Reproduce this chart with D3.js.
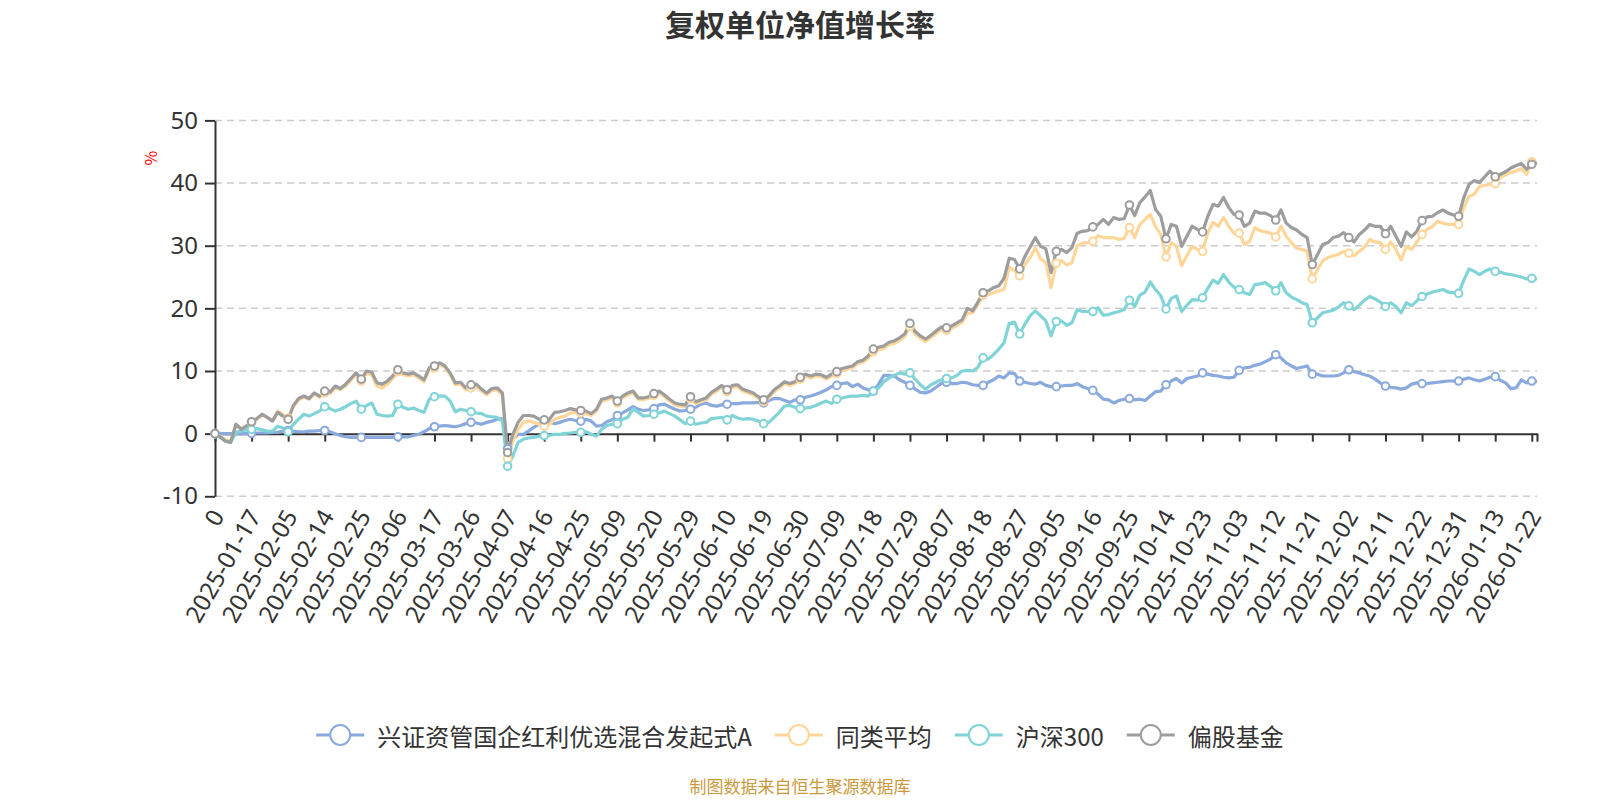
<!DOCTYPE html>
<html>
<head>
<meta charset="utf-8">
<script src="https://cdn.jsdelivr.net/npm/d3@7"></script>
<style>
  body { margin: 0; background: #fff; }
  svg { display: block; font-family: "Noto Sans CJK SC", "Noto Sans", sans-serif; }
</style>
</head>
<body>
<div id="main"></div>
<script>
// x tick labels, one every 7 trading days
const tickLabels = ["0", "2025-01-17", "2025-02-05", "2025-02-14", "2025-02-25", "2025-03-06", "2025-03-17",
  "2025-03-26", "2025-04-07", "2025-04-16", "2025-04-25", "2025-05-09", "2025-05-20", "2025-05-29",
  "2025-06-10", "2025-06-19", "2025-06-30", "2025-07-09", "2025-07-18", "2025-07-29", "2025-08-07",
  "2025-08-18", "2025-08-27", "2025-09-05", "2025-09-16", "2025-09-25", "2025-10-14", "2025-10-23",
  "2025-11-03", "2025-11-12", "2025-11-21", "2025-12-02", "2025-12-11", "2025-12-22", "2025-12-31",
  "2026-01-13", "2026-01-22"];
const labelStep = 7;
const yTicks = [-10, 0, 10, 20, 30, 40, 50];

const seriesNames = ["兴证资管国企红利优选混合发起式A", "同类平均", "沪深300", "偏股基金"];
const seriesColors = ["#8aa9dd", "#ffd699", "#80d4d7", "#9d9d9d"];

const fundA = [
  0, 0, 0, 0, 0, 0, 0.05,
  0.05, 0.1, 0.1, 0.1, 0.2, 0.2, 0.4,
  0.5, 0.4, 0.3, 0.3, 0.4, 0.4, 0.5,
  0.5, 0.3, 0.0, -0.3, -0.5, -0.6, -0.6,
  -0.6, -0.6, -0.6, -0.6, -0.6, -0.6, -0.6,
  -0.5, -0.5, -0.5, -0.3, -0.1, 0.3, 0.8,
  1.1, 1.2, 1.3, 1.2, 1.1, 1.3, 1.6,
  1.8, 1.7, 1.5, 1.8, 2.0, 2.3, 2.4,
  -2.4, -0.9, -0.1, -0.1, 0.4, 1.0, 1.5,
  2.0, 1.9, 1.6, 1.8, 2.1, 2.3, 2.1,
  2.0, 2.3, 2.0, 1.2, 1.3, 1.9, 2.2,
  2.9, 3.3, 3.8, 4.3, 3.9, 3.7, 3.8,
  4.0, 4.6, 4.7, 4.3, 3.9, 3.6, 3.7,
  3.9, 4.2, 4.7, 4.9, 4.5, 4.4, 4.6,
  4.7, 4.8, 4.8, 4.9, 4.9, 4.9, 5.0,
  4.9, 5.3, 5.6, 5.6, 5.3, 5.0, 5.4,
  5.4, 5.8, 6.0, 6.3, 6.6, 7.0, 7.5,
  7.7, 8.0, 8.1, 7.5, 7.9, 7.3, 7.0,
  6.8, 7.9, 9.3, 9.3, 9.2, 8.6, 8.2,
  7.7, 7.1, 6.6, 6.5, 6.8, 7.4, 8.0,
  8.2, 8.0, 8.0, 8.2, 8.1, 7.8, 7.7,
  7.7, 8.2, 8.6, 9.2, 8.9, 9.7, 9.6,
  8.4, 8.2, 8.0, 7.9, 8.2, 7.7, 7.5,
  7.5, 7.6, 7.7, 7.7, 8.0, 7.5, 7.2,
  6.9, 6.3, 5.5, 5.4, 4.9, 5.3, 5.5,
  5.6, 5.4, 5.5, 5.3, 6.0, 6.7, 6.8,
  7.8, 8.4, 8.8, 8.1, 8.8, 9.0, 9.2,
  9.7, 9.5, 9.3, 9.2, 9.0, 8.9, 9.0,
  10.1, 10.5, 10.6, 10.9, 11.1, 11.5, 11.9,
  12.6, 12.1, 11.3, 10.8, 10.4, 10.6, 10.8,
  9.5, 9.5, 9.2, 9.2, 9.2, 9.3, 9.7,
  10.2, 9.9, 9.7, 9.4, 9.2, 8.7, 8.1,
  7.6, 7.4, 7.3, 7.1, 7.3, 7.9, 8.1,
  8.0, 8.0, 8.1, 8.2, 8.3, 8.4, 8.4,
  8.4, 8.7, 8.9, 8.6, 8.4, 8.7, 9.0,
  9.1, 8.5, 8.1, 7.2, 7.3, 8.6, 8.1,
  8.4, 8.3
];

const peerAvg = [
  0, -0.4, -1.0, -1.2, 1.3, 0.8, 1.2,
  1.8, 2.3, 3.0, 2.6, 2.1, 3.6, 3.0,
  2.5, 4.3, 5.4, 5.8, 5.5, 6.3, 5.8,
  6.5, 6.4, 7.3, 7.0, 7.6, 8.5, 9.4,
  8.4, 9.6, 9.4, 7.6, 7.3, 7.9, 8.8,
  9.9, 9.4, 9.2, 9.4, 8.9, 8.3, 10.2,
  10.5, 11.0, 10.6, 9.4, 7.8, 7.9, 7.0,
  7.3, 7.5, 6.8, 6.2, 6.9, 7.0, 6.1,
  -4.0, -1.2, 0.7, 1.8, 2.0, 1.8, 1.5,
  1.2, 1.5, 2.3, 2.6, 2.8, 3.3, 3.4,
  3.3, 3.2, 2.9, 3.6, 5.2, 5.4, 5.7,
  4.9, 5.7, 6.2, 6.5, 5.5, 5.4, 5.6,
  6.1, 6.5, 5.9, 5.2, 4.6, 4.4, 4.3,
  5.6, 4.8, 5.1, 5.4, 6.3, 6.8, 7.4,
  6.7, 7.4, 7.5, 6.8, 6.5, 6.2, 5.6,
  5.1, 5.7, 6.7, 7.3, 8.0, 7.7, 8.0,
  8.7, 9.2, 8.9, 9.2, 9.1, 8.7, 9.2,
  9.6, 10.1, 10.3, 10.5, 11.2, 11.4, 12.0,
  13.1, 13.4, 13.6, 14.2, 14.4, 14.9, 15.5,
  17.1, 15.9, 15.2, 14.7, 15.3, 16.0, 16.6,
  16.5, 16.8, 17.3, 17.8, 19.2, 19.3, 20.6,
  22.1, 22.2, 22.5, 22.8, 23.0, 26.6, 26.0,
  25.2, 27.0, 28.1, 29.7, 27.9, 27.3, 23.3,
  27.2, 27.6, 26.9, 27.3, 30.0, 30.4, 30.5,
  30.7, 31.6, 31.3, 31.3, 31.3, 31.0, 31.2,
  32.9, 31.3, 33.4, 34.2, 35.0, 33.0, 31.8,
  28.2, 30.5, 29.9, 26.8, 28.4, 29.9, 29.4,
  29.1, 32.1, 33.7, 33.1, 34.5, 33.1, 32.0,
  32.0, 30.2, 30.7, 32.9, 32.4, 32.2, 32.0,
  31.4, 33.1, 31.5, 30.5, 29.6, 29.4, 29.1,
  24.7, 26.2, 27.6, 28.1, 28.4, 28.6, 29.1,
  28.8, 28.4, 29.1, 29.8, 31.0, 30.6, 30.5,
  29.4, 30.6, 29.4, 27.7, 29.9, 29.4, 30.6,
  31.8, 32.6, 33.1, 33.9, 33.6, 33.4, 33.4,
  33.4, 36.1, 37.9, 38.2, 39.5, 39.6, 39.8,
  39.9, 40.9, 41.3, 41.7, 41.9, 42.3, 41.4,
  43.4, 43.3
];

const csi300 = [
  0, -0.6, -1.2, -1.4, 0.2, 0.4, 0.6,
  0.7, 0.8, 0.6, 0.4, 0.4, 1.2, 0.9,
  0.3, 1.5, 2.3, 3.1, 2.8, 3.2, 3.6,
  4.3, 4.0, 3.6, 3.9, 4.3, 4.8, 5.2,
  3.9, 4.5, 4.9, 3.1, 2.9, 2.8, 2.9,
  4.7, 4.2, 3.9, 4.1, 3.7, 3.4, 5.5,
  5.9, 6.0, 6.0, 5.2, 3.5, 3.9, 3.7,
  3.5, 3.3, 3.2, 2.8, 2.7, 2.6, 2.0,
  -5.2, -3.6, -1.4, -0.9, -0.7, -0.6, -0.4,
  -0.3, -0.3, -0.1, -0.1, 0.05, 0.1, 0.2,
  0.2, 0.3, -0.1, -0.4, 0.7, 1.3, 1.5,
  1.6, 2.3, 2.6, 4.0, 3.4, 2.8, 2.9,
  3.1, 3.3, 3.6, 3.2, 2.8, 2.2, 1.6,
  2.0, 1.5, 1.7, 1.8, 2.4, 2.5, 2.6,
  2.2, 2.9, 2.5, 2.3, 2.4, 2.3, 2.0,
  1.6, 1.8, 2.6, 3.4, 4.4, 4.5, 4.2,
  4.0, 4.1, 4.2, 4.5, 4.9, 5.2, 4.8,
  5.5, 5.7, 5.9, 6.0, 6.0, 6.1, 6.0,
  6.8, 7.3, 8.3, 8.9, 9.3, 9.7, 9.5,
  9.7, 8.7, 7.8, 7.1, 7.8, 8.2, 8.6,
  8.8, 8.9, 9.3, 10.0, 10.1, 10.0, 10.6,
  12.1, 11.9, 12.6, 13.5, 14.5, 17.6, 17.8,
  15.9, 17.5, 18.8, 19.6, 18.8, 18.0, 15.6,
  17.9, 18.0, 17.3, 17.7, 19.8, 19.5, 19.5,
  19.5, 20.1, 18.9, 19.0, 19.3, 19.5, 19.8,
  21.3, 20.3, 22.1, 22.6, 24.2, 23.0, 22.0,
  19.9, 21.6, 22.0, 19.5, 20.5, 21.4, 21.3,
  21.7, 23.2, 24.5, 24.0, 25.4, 24.2, 23.4,
  23.0, 22.5, 22.2, 23.8, 23.9, 24.1, 23.5,
  22.8, 24.1, 22.5, 21.8, 21.4, 20.9, 20.6,
  17.7, 18.5, 19.3, 19.5, 19.7, 20.2, 20.9,
  20.4, 19.8, 20.5, 21.3, 21.9, 21.5, 21.0,
  20.3, 20.9, 20.3, 19.3, 20.9, 20.4, 21.2,
  21.9, 22.3, 22.6, 22.8, 23.0, 22.6, 22.5,
  22.4, 24.5, 26.3, 25.9, 25.4, 25.9, 26.3,
  25.9, 25.8, 25.5, 25.4, 25.2, 25.0, 24.7,
  24.8, 24.7
];

const equityFund = [
  0, -0.5, -1.2, -1.4, 1.5, 0.7, 1.2,
  1.9, 2.4, 3.1, 2.6, 2.0, 3.4, 2.8,
  2.3, 4.5, 5.6, 6.0, 5.6, 6.5, 6.0,
  6.8, 6.6, 7.6, 7.2, 7.9, 8.8, 9.7,
  8.7, 10.0, 9.8, 8.1, 7.9, 8.4, 9.2,
  10.2, 9.7, 9.5, 9.7, 9.2, 8.6, 10.5,
  10.8, 11.3, 10.8, 9.7, 8.1, 8.2, 7.3,
  7.8, 7.9, 7.1, 6.5, 7.2, 7.3, 6.5,
  -3.0, -0.1, 1.8, 2.9, 2.9, 2.8, 2.3,
  2.2, 2.3, 3.4, 3.5, 3.7, 4.0, 3.8,
  3.7, 3.6, 3.2, 3.9, 5.5, 5.7, 6.0,
  5.2, 6.0, 6.5, 6.8, 5.7, 5.7, 5.9,
  6.4, 6.8, 6.2, 5.5, 4.9, 4.7, 4.6,
  5.9, 5.1, 5.4, 5.7, 6.6, 7.1, 7.7,
  7.0, 7.7, 7.8, 7.1, 6.8, 6.5, 5.9,
  5.4, 6.0, 7.0, 7.6, 8.3, 8.0, 8.3,
  9.0, 9.5, 9.2, 9.5, 9.4, 9.0, 9.5,
  9.9, 10.4, 10.6, 10.8, 11.5, 11.7, 12.4,
  13.5, 13.8, 14.0, 14.6, 14.8, 15.3, 15.9,
  17.6, 16.3, 15.6, 15.1, 15.7, 16.4, 17.0,
  16.9, 17.2, 17.7, 18.2, 20.0, 19.6, 21.0,
  22.5, 22.8, 23.3, 23.6, 24.8, 28.0, 27.8,
  26.3, 28.3, 29.8, 31.3, 29.9, 29.5, 25.7,
  29.1, 29.4, 28.9, 29.7, 32.0, 32.3, 32.4,
  33.0, 33.4, 34.2, 33.4, 34.5, 34.2, 34.3,
  36.5, 34.8, 36.9, 37.8, 38.8, 35.8, 34.7,
  31.1, 33.4, 33.1, 29.9, 31.5, 33.1, 32.6,
  32.2, 34.7, 36.6, 36.3, 37.7, 36.1, 35.0,
  34.9, 33.1, 33.6, 35.5, 35.2, 35.2, 34.8,
  34.1, 35.7, 33.6, 32.9, 32.5, 31.8, 31.3,
  27.0, 28.6, 30.2, 30.5, 31.3, 31.5, 32.1,
  31.3, 30.6, 31.8, 32.5, 33.4, 33.1, 33.1,
  31.9, 33.1, 31.5, 29.9, 32.2, 31.4, 32.3,
  34.0, 34.6, 34.7, 35.3, 35.7, 35.2, 34.9,
  34.7, 37.7, 39.8, 40.4, 40.1, 41.0, 41.9,
  41.0, 41.4, 41.8, 42.4, 42.8, 43.1, 42.2,
  43.0, 43.2
];

const W = 1600, H = 800;
const plot = { left: 215, right: 1537, top: 120.4, bottom: 496.3 };

const svg = d3.select("#main").append("svg")
  .attr("width", W)
  .attr("height", H);

const allSeries = [fundA, peerAvg, csi300, equityFund];
const n = fundA.length;

const x = d3.scaleLinear().domain([0, n - 1]).range([plot.left, plot.right]);
const y = d3.scaleLinear().domain([-10, 50]).range([plot.bottom, plot.top]);

// Title
svg.append("text")
  .attr("x", W / 2)
  .attr("y", 23)
  .attr("text-anchor", "middle")
  .attr("dominant-baseline", "central")
  .style("font-size", "30px")
  .style("font-weight", "bold")
  .style("fill", "#333")
  .text("复权单位净值增长率");

// grid lines (dashed)
svg.append("g")
  .selectAll("line")
  .data(yTicks.filter(v => v !== 0))
  .join("line")
  .attr("x1", plot.left)
  .attr("x2", plot.right)
  .attr("y1", d => y(d))
  .attr("y2", d => y(d))
  .attr("stroke", "#cccccc")
  .attr("stroke-width", 1.5)
  .attr("stroke-dasharray", "7,5");

// Y axis
const yAxis = svg.append("g")
  .attr("transform", `translate(${plot.left},0)`)
  .call(d3.axisLeft(y).tickValues(yTicks).tickSize(10).tickSizeOuter(0).tickPadding(7)
    .tickFormat(d => String(d)));
yAxis.select(".domain").attr("stroke", "#333").attr("stroke-width", 2);
yAxis.selectAll(".tick line").attr("stroke", "#333").attr("stroke-width", 2);
yAxis.selectAll(".tick text")
  .style("font-size", "24px")
  .style("fill", "#333")
  .style("font-family", "\"Noto Sans\", sans-serif");

// unit label
svg.append("text")
  .attr("transform", `translate(150,158) rotate(-90)`)
  .attr("text-anchor", "middle")
  .attr("dominant-baseline", "central")
  .style("font-size", "16px")
  .style("fill", "#ff0000")
  .text("%");

// X axis on the zero line
const tickIdx = d3.range(0, n, labelStep);
const xAxis = svg.append("g")
  .attr("transform", `translate(0,${y(0)})`)
  .call(d3.axisBottom(x).tickValues(tickIdx.concat([n - 1])).tickSize(8).tickSizeOuter(0).tickFormat(""));
xAxis.select(".domain").attr("stroke", "#333").attr("stroke-width", 2);
xAxis.selectAll(".tick line").attr("stroke", "#333").attr("stroke-width", 2);

// X tick labels at the bottom of the grid
svg.append("g")
  .selectAll("text")
  .data(tickIdx)
  .join("text")
  .attr("transform", d => `translate(${x(d) + 2},${plot.bottom + 15}) rotate(-60)`)
  .attr("text-anchor", "end")
  .attr("dominant-baseline", "central")
  .style("font-size", "24px")
  .style("fill", "#333")
  .style("font-family", "\"Noto Sans\", sans-serif")
  .text((d, i) => tickLabels[i]);

// lines
const line = d3.line()
  .x((d, i) => x(i))
  .y(d => y(d));

allSeries.forEach((data, k) => {
  svg.append("path")
    .datum(data)
    .attr("d", line)
    .attr("fill", "none")
    .attr("stroke", seriesColors[k])
    .attr("stroke-width", 3.2)
    .attr("stroke-linejoin", "round");
});

allSeries.forEach((data, k) => {
  svg.append("g")
    .selectAll("circle")
    .data(tickIdx)
    .join("circle")
    .attr("cx", d => x(d))
    .attr("cy", d => y(data[d]))
    .attr("r", 3.8)
    .attr("fill", "#fff")
    .attr("stroke", seriesColors[k])
    .attr("stroke-width", 2);
});

// Legend
const legend = svg.append("g").attr("transform", "translate(0,735)");
const items = [];
seriesNames.forEach((name, k) => {
  const g = legend.append("g");
  g.append("line")
    .attr("x1", 0).attr("x2", 48)
    .attr("y1", 0).attr("y2", 0)
    .attr("stroke", seriesColors[k])
    .attr("stroke-width", 3);
  g.append("circle")
    .attr("cx", 24).attr("cy", 0)
    .attr("r", 10)
    .attr("fill", "#fff")
    .attr("stroke", seriesColors[k])
    .attr("stroke-width", 2);
  const t = g.append("text")
    .attr("x", 61)
    .attr("y", 0)
    .attr("dominant-baseline", "central")
    .style("font-size", "24px")
    .style("fill", "#333")
    .text(name);
  const w = 61 + t.node().getComputedTextLength();
  items.push({ g, w });
});
const gap = 23;
const total = d3.sum(items, d => d.w) + gap * (items.length - 1);
let start = W / 2 - total / 2;
items.forEach(it => {
  it.g.attr("transform", `translate(${start},0)`);
  start += it.w + gap;
});

// source note
svg.append("text")
  .attr("x", W / 2)
  .attr("y", 785)
  .attr("text-anchor", "middle")
  .attr("dominant-baseline", "central")
  .style("font-size", "17px")
  .style("fill", "#c99a3e")
  .text("制图数据来自恒生聚源数据库");
</script>
</body>
</html>
